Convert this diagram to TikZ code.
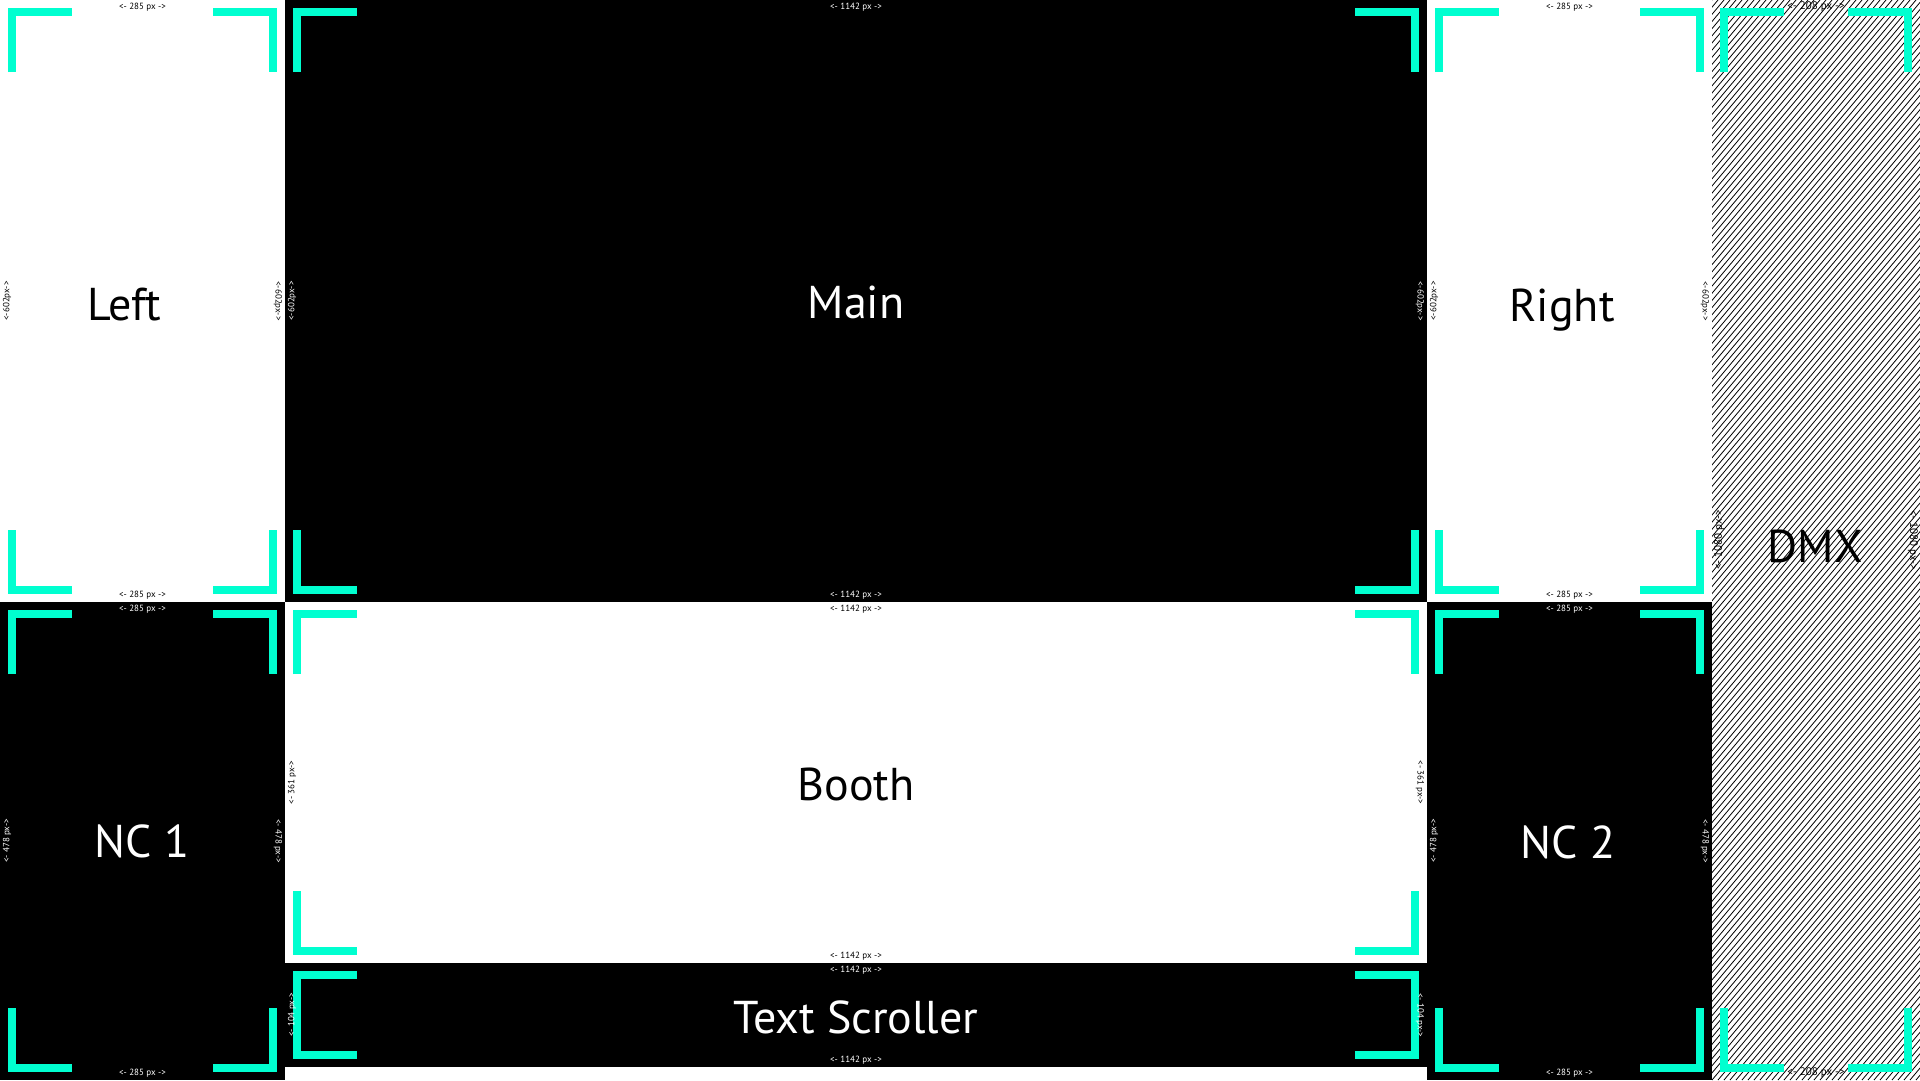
\documentclass[tikz,border=0pt]{standalone}
\usepackage{fontspec}
\setmainfont{PT Sans}
\usepackage{xcolor}
\definecolor{c1}{HTML}{00FFD0}

\tikzset{
	corner/.style = {draw = c1, line width = 8pt},
	dim/.style = {font = \fontsize{9}{10}\selectfont, inner sep = 0pt},
	title/.style = {font = \fontsize{46}{55}\selectfont, inner sep = 0pt, anchor = base},
	hatch/.style = {line width = .8pt},
}

% corner marks of a screen: x1, y1, x2, y2
\newcommand{\corners}[4]{
	\draw [corner] ({#1+12},{#2+72}) |- ({#1+72},{#2+12});
	\draw [corner] ({#3-72},{#2+12}) -| ({#3-12},{#2+72});
	\draw [corner] ({#1+12},{#4-72}) |- ({#1+72},{#4-12});
	\draw [corner] ({#3-72},{#4-12}) -| ({#3-12},{#4-72});
}

% size labels of a screen: name, x1, y1, x2, y2, width text, height text, options
\newcommand{\sizes}[8]{
	\node [dim, #8] (#1-n) at ({(#2+#4)/2},{#3+7}) {#6};
	\node [dim, #8] (#1-s) at ({(#2+#4)/2},{#5-7}) {#6};
	\node [dim, #8, rotate = 90] (#1-w) at ({#2+7},{(#3+#5)/2}) {#7};
	\node [dim, #8, rotate = -90] (#1-e) at ({#4-7},{(#3+#5)/2}) {#7};
}

\begin{document}
\begin{tikzpicture} [x = 1pt, y = -1pt]
\useasboundingbox (0,0) rectangle (1920,1080);
\fill [white] (0,0) rectangle (1920,1080);

% screens:
\fill [black] (285,0) rectangle (1427,602);
\fill [black] (0,602) rectangle (285,1080);
\fill [black] (1427,602) rectangle (1712,1080);
\fill [black] (285,963) rectangle (1427,1067);

% DMX hatching:
\begin{scope}
	\clip (1712,0) rectangle (1920,1080);
	\foreach \x in {800,806,...,1920}
		\draw [hatch] (\x,1080) -- ++(906,-1080);
\end{scope}

% corners:
\corners{0}{0}{285}{602}
\corners{285}{0}{1427}{602}
\corners{1427}{0}{1712}{602}
\corners{1712}{0}{1920}{1080}
\corners{0}{602}{285}{1080}
\corners{285}{602}{1427}{963}
\corners{285}{963}{1427}{1067}
\corners{1427}{602}{1712}{1080}

% sizes:
\sizes{left}{0}{0}{285}{602}{<- 285 px ->}{<-602px->}{text = black}
\sizes{main}{285}{0}{1427}{602}{<- 1142 px ->}{<-602px->}{text = white}
\sizes{right}{1427}{0}{1712}{602}{<- 285 px ->}{<-602px->}{text = black}
\sizes{dmx}{1712}{0}{1920}{1080}{<- 208 px ->}{<- 1080 px->}{text = black, font = \fontsize{11}{12}\selectfont}
\sizes{nc1}{0}{602}{285}{1080}{<- 285 px ->}{<- 478 px->}{text = white}
\sizes{booth}{285}{602}{1427}{963}{<- 1142 px ->}{<- 361 px->}{text = black}
\sizes{scroll}{285}{963}{1427}{1067}{<- 1142 px ->}{<- 104 px->}{text = white}
\sizes{nc2}{1427}{602}{1712}{1080}{<- 285 px ->}{<- 478 px->}{text = white}

% names:
\node [title] (left) at (124,320) {Left};
\node [title, white] (main) at (856,318) {Main};
\node [title] (right) at (1562,321) {Right};
\node [title] (dmx) at (1815,562) {DMX};
\node [title, white] (nc1) at (142,857) {NC 1};
\node [title] (booth) at (856,800) {Booth};
\node [title, white] (scroll) at (856,1033) {Text Scroller};
\node [title, white] (nc2) at (1568,858) {NC 2};
\end{tikzpicture}
\end{document}
